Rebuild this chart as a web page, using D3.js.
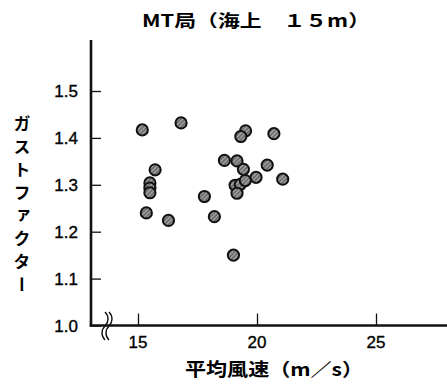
<!DOCTYPE html>
<html>
<head>
<meta charset="utf-8">
<script src="https://cdn.jsdelivr.net/npm/d3@7"></script>
<style>
  html, body { margin: 0; padding: 0; background: #fff; }
  svg { display: block; }
</style>
</head>
<body>
<script>
// Mean wind speed (m/s) and gust factor for each observation
const meanSpeed = [15.18, 16.81, 19.52, 19.32, 20.71, 18.63, 19.16, 19.43, 20.43, 19.96,
                   21.08, 15.72, 15.50, 15.50, 15.50, 19.08, 19.30, 19.51, 19.16, 17.79,
                   15.35, 16.28, 18.21, 19.01];
const gustFactor = [1.417, 1.432, 1.415, 1.403, 1.409, 1.352, 1.351, 1.333, 1.342, 1.316,
                    1.312, 1.332, 1.304, 1.293, 1.283, 1.299, 1.301, 1.309, 1.282, 1.275,
                    1.240, 1.224, 1.232, 1.150];
const xTicks = [15, 20, 25];
const yTicks = [1.0, 1.1, 1.2, 1.3, 1.4, 1.5];
const titleText = "MT局（海上　１５m）";
const xLabel = "平均風速（m／s）";
const yLabel = "ガストファクター";

const W = 447, H = 388;
const svg = d3.select("body").append("svg").attr("width", W).attr("height", H);

const x = d3.scaleLinear().domain([15, 25]).range([138, 376]);
const y = d3.scaleLinear().domain([1.0, 1.5]).range([325.5, 91]);
const axisX0 = 91, axisY0 = 325.5;

// hatched fill for the markers
const defs = svg.append("defs");
const pat = defs.append("pattern").attr("id", "hatch")
  .attr("patternUnits", "userSpaceOnUse").attr("width", 3).attr("height", 3)
  .attr("patternTransform", "rotate(45)");
pat.append("rect").attr("width", 3).attr("height", 3).attr("fill", "#6f6f6f");
pat.append("line").attr("x1", 0).attr("y1", 0).attr("x2", 0).attr("y2", 3)
  .attr("stroke", "#d8d8d8").attr("stroke-width", 1.2);

const numFont = "'Liberation Sans Narrow', 'Liberation Sans', Arial, sans-serif";
const jpFont = "'Noto Sans CJK JP', sans-serif";

// title
svg.append("text")
  .attr("x", 256).attr("y", 27)
  .attr("text-anchor", "middle")
  .attr("font-family", jpFont).attr("font-size", 17).attr("font-weight", 700)
  .attr("textLength", 228).attr("lengthAdjust", "spacingAndGlyphs")
  .text(titleText);

// y axis
const yAxis = d3.axisRight(y).tickValues(yTicks).tickSize(10).tickFormat("");
const gy = svg.append("g").attr("transform", `translate(${axisX0},0)`).call(yAxis);
gy.select(".domain").remove();
gy.selectAll(".tick line").attr("stroke", "#111").attr("stroke-width", 1.3);
svg.append("line").attr("x1", axisX0).attr("x2", axisX0).attr("y1", 40).attr("y2", axisY0 + 1)
  .attr("stroke", "#111").attr("stroke-width", 2.6);

svg.append("g").selectAll("text").data(yTicks).join("text")
  .attr("x", 78).attr("y", d => y(d) + 6)
  .attr("text-anchor", "end")
  .attr("font-family", numFont).attr("font-size", 17)
  .attr("fill", "#000").attr("stroke", "#000").attr("stroke-width", 0.35)
  .text(d => d.toFixed(1));

// x axis
const xAxis = d3.axisTop(x).tickValues(xTicks).tickSize(12).tickFormat("");
const gx = svg.append("g").attr("transform", `translate(0,${axisY0})`).call(xAxis);
gx.select(".domain").remove();
gx.selectAll(".tick line").attr("stroke", "#111").attr("stroke-width", 1.3);
svg.append("line").attr("x1", axisX0 - 1.3).attr("x2", W).attr("y1", axisY0).attr("y2", axisY0)
  .attr("stroke", "#111").attr("stroke-width", 2.6);

svg.append("g").selectAll("text").data(xTicks).join("text")
  .attr("x", d => x(d)).attr("y", 348)
  .attr("text-anchor", "middle")
  .attr("font-family", numFont).attr("font-size", 17)
  .attr("fill", "#000").attr("stroke", "#000").attr("stroke-width", 0.35)
  .text(d => d);

// axis break mark
const brk = svg.append("g").attr("fill", "none").attr("stroke", "#111").attr("stroke-width", 1.4);
[105, 109].forEach(bx => {
  brk.append("path").attr("d",
    `M${bx},312 C${bx + 4},316 ${bx + 4},322 ${bx},326 C${bx - 4},330 ${bx - 4},336 ${bx},340`);
});

// axis titles
svg.append("text")
  .attr("x", 185).attr("y", 376)
  .attr("font-family", jpFont).attr("font-size", 18).attr("font-weight", 700)
  .attr("textLength", 178).attr("lengthAdjust", "spacingAndGlyphs")
  .text(xLabel);

svg.append("text")
  .attr("transform", "translate(22,115)")
  .attr("font-family", jpFont).attr("font-size", 17).attr("font-weight", 700)
  .style("writing-mode", "vertical-rl")
  .style("text-orientation", "upright")
  .attr("letter-spacing", 6)
  .text(yLabel);

// data points
svg.append("g").selectAll("circle")
  .data(meanSpeed.map((s, i) => [s, gustFactor[i]]))
  .join("circle")
  .attr("cx", d => x(d[0]))
  .attr("cy", d => y(d[1]))
  .attr("r", 5.6)
  .attr("fill", "url(#hatch)")
  .attr("stroke", "#111")
  .attr("stroke-width", 2);
</script>
</body>
</html>
